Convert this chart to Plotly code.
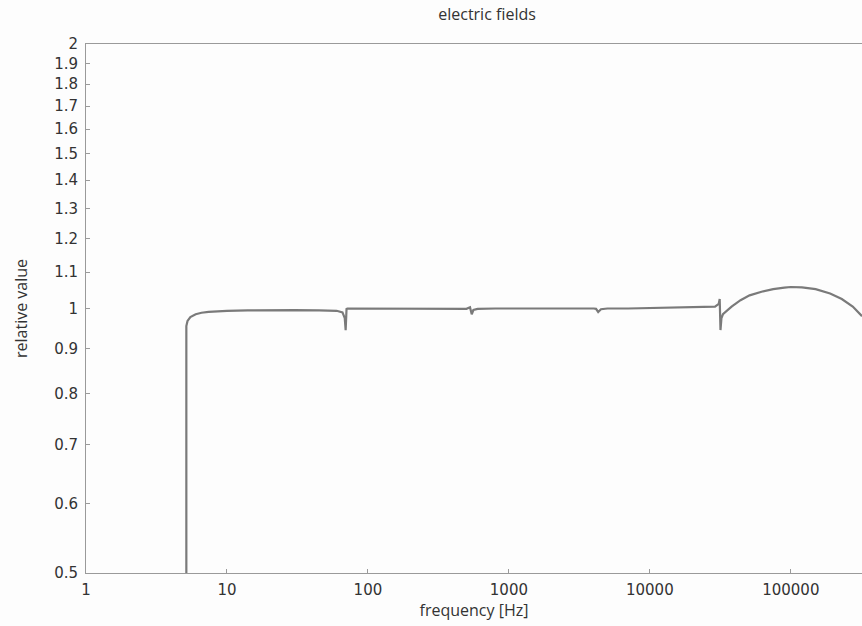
import plotly.graph_objects as go

freq = [5.15, 5.15, 5.25, 5.5, 6.0, 6.6, 7.4, 8.5, 10, 14, 20, 30, 45, 60, 66, 68.5, 69.5, 70.5, 71.5, 73,
        85, 100, 150, 200, 300, 420, 500, 530, 545, 560, 600, 800, 1000, 1500, 2000, 3000, 4000, 4150,
        4300, 4500, 5000, 7000, 10000, 15000, 20000, 26000, 29000, 30800, 31300, 31700, 32200, 33000,
        34500, 38000, 44000, 51000, 62000, 75000, 90000, 100000, 120000, 150000, 190000, 230000, 275000,
        300000, 320000]
value = [0.50, 0.955, 0.968, 0.978, 0.985, 0.989, 0.991, 0.993, 0.994, 0.995, 0.996, 0.996, 0.995, 0.994,
         0.990, 0.975, 0.945, 0.999, 1.000, 1.000,
         0.999, 1.000, 1.000, 1.000, 1.000, 1.000, 0.999, 1.003, 0.985, 0.996, 0.999, 1.000, 1.000, 1.000,
         1.000, 1.001, 1.000, 0.999, 0.991, 0.998, 1.000, 1.000, 1.001, 1.002, 1.002, 1.003, 1.005, 1.012,
         1.025, 0.945, 0.975, 0.985,
         0.992, 1.005, 1.022, 1.035, 1.045, 1.052, 1.056, 1.058, 1.057, 1.052, 1.040, 1.025, 1.005,
         0.992, 0.980]

x_tickvals = [1, 10, 100, 1000, 10000, 100000]
x_ticktext = ["1", "10", "100", "1000", "10000", "100000"]
y_tickvals = [0.5, 0.6, 0.7, 0.8, 0.9, 1.0, 1.1, 1.2, 1.3, 1.4, 1.5, 1.6, 1.7, 1.8, 1.9, 2.0]
y_ticktext = ["0.5", "0.6", "0.7", "0.8", "0.9", "1", "1.1", "1.2", "1.3", "1.4", "1.5", "1.6",
              "1.7", "1.8", "1.9", "2"]

fig = go.Figure()
fig.add_trace(go.Scatter(x=freq, y=value, mode="lines",
                         line=dict(color="#7a7a7a", width=2.2), showlegend=False))

axis_common = dict(showgrid=False, zeroline=False, showline=True, linecolor="#9a9a9a",
                   linewidth=1, mirror=True, ticks="inside", ticklen=4, tickcolor="#9a9a9a",
                   tickfont=dict(family="DejaVu Sans", size=15, color="#333333"))

fig.update_layout(
    width=862, height=626,
    margin=dict(l=86, r=0, t=44, b=53),
    paper_bgcolor="#fdfdfd", plot_bgcolor="#fdfdfd",
    title=dict(text="electric fields", x=0.565, xanchor="center", y=0.977, yanchor="middle",
               font=dict(family="Open Sans", size=16, color="#333333")),
    xaxis=dict(type="log", range=[0, 5.505], tickvals=x_tickvals, ticktext=x_ticktext,
               ticklabelstandoff=3,
               title=dict(text="frequency [Hz]", standoff=6,
                          font=dict(family="Open Sans", size=16, color="#333333")),
               **axis_common),
    yaxis=dict(type="log", range=[-0.30103, 0.30103], tickvals=y_tickvals, ticktext=y_ticktext,
               ticklabelstandoff=4,
               title=dict(text="relative value", standoff=22,
                          font=dict(family="Open Sans", size=16, color="#333333")),
               **axis_common),
)
fig.write_html("out.html", config={"displayModeBar": False},
               post_script="document.body.style.margin='0';document.body.style.overflow='hidden';")
